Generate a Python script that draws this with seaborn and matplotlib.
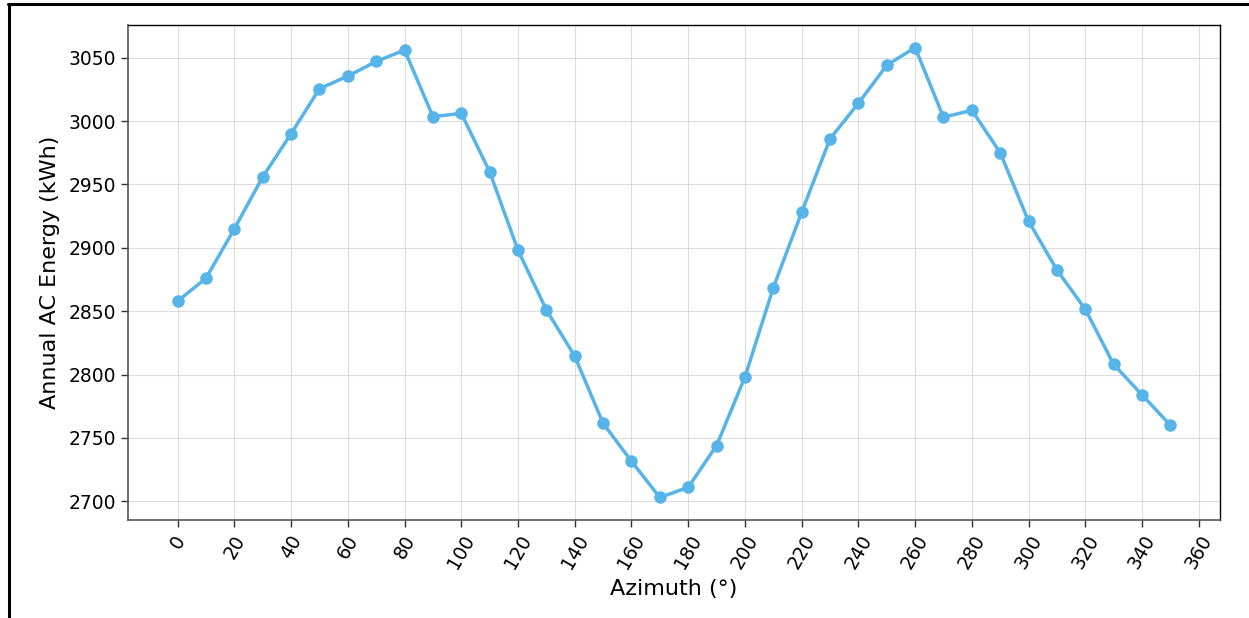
import matplotlib
matplotlib.use("Agg")
import matplotlib.pyplot as plt
from matplotlib.lines import Line2D
import seaborn as sns
import pandas as pd

azimuth = [0, 10, 20, 30, 40, 50, 60, 70, 80, 90, 100, 110, 120, 130, 140, 150, 160, 170,
           180, 190, 200, 210, 220, 230, 240, 250, 260, 270, 280, 290, 300, 310, 320, 330, 340, 350]
energy = [2858, 2876, 2915, 2956, 2990, 3025.5, 3035.5, 3047, 3056, 3003.5, 3006, 2960, 2898,
          2851, 2814.5, 2761.5, 2731.5, 2703, 2711, 2744, 2798, 2868.5, 2928, 2986, 3014, 3044,
          3058, 3003, 3008.5, 2975, 2921, 2882.5, 2851.5, 2808, 2784, 2760]
xticks = list(range(0, 361, 20))

df = pd.DataFrame({"Azimuth": azimuth, "Energy": energy})

sns.set_style("ticks")
plt.rcParams['font.family'] = ['DejaVu Sans']
plt.rcParams['text.color'] = 'black'
plt.rcParams['axes.labelcolor'] = 'black'
plt.rcParams['xtick.color'] = 'black'
plt.rcParams['ytick.color'] = 'black'

fig = plt.figure(figsize=(12.49, 6.18), dpi=100)
ax = fig.add_axes([0.1025, 0.1586, 0.8743, 0.8009])

sns.lineplot(data=df, x="Azimuth", y="Energy", ax=ax, color="#56B4E9",
             linewidth=2.5, marker="o", markersize=9, markeredgewidth=0)

ax.set_xticks(xticks)
ax.set_xticklabels([str(t) for t in xticks], rotation=60, fontsize=13.5)
ax.tick_params(axis='y', labelsize=13.5)
ax.tick_params(axis='both', length=5, width=1, color='#333333', labelcolor='black')
ax.set_xlabel("Azimuth (°)", fontsize=16, color='black', labelpad=5)
ax.set_ylabel("Annual AC Energy (kWh)", fontsize=16, color='black', labelpad=6)
ax.grid(True, color='#d4d4d4', alpha=0.8, linewidth=0.8)
ax.set_axisbelow(True)
for side in ['left', 'bottom']:
    ax.spines[side].set_color('#555555')
    ax.spines[side].set_linewidth(1.2)
for side in ['top', 'right']:
    ax.spines[side].set_visible(True)
    ax.spines[side].set_color('black')
    ax.spines[side].set_linewidth(1.0)

# outer frame (cropped container border)
W, H = 1249, 618
fig.add_artist(Line2D([8 / W, 1.0], [1 - 3.5 / H, 1 - 3.5 / H], color='black', linewidth=2.2,
                      transform=fig.transFigure))
fig.add_artist(Line2D([8.5 / W, 8.5 / W], [0, 1 - 3.5 / H], color='black', linewidth=2.2,
                      transform=fig.transFigure))

fig.savefig("out.png", dpi=100)
